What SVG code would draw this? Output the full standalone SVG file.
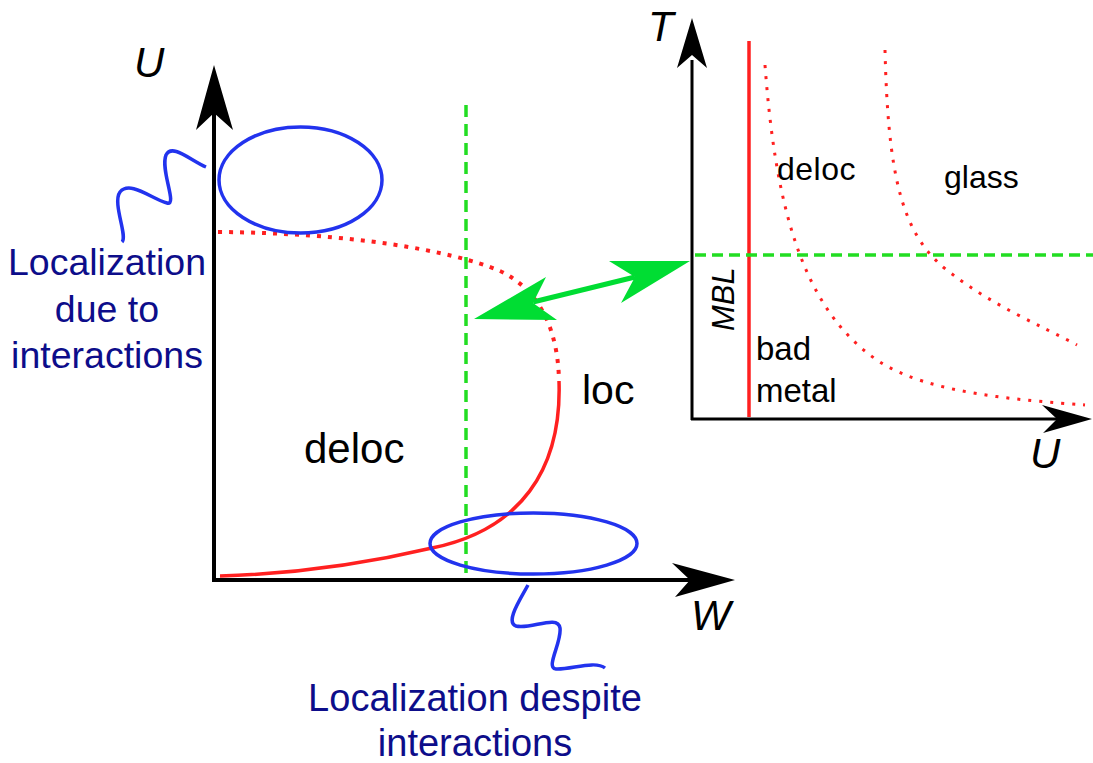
<svg xmlns="http://www.w3.org/2000/svg" width="1093" height="763" viewBox="0 0 1093 763">
<style>
text{font-family:"Liberation Sans",Arial,sans-serif;}
.ax{stroke:#000;fill:none;}
.ah{fill:#000;stroke:none;}
.lab{font-style:italic;font-size:42px;fill:#000;}
.reg{fill:#000;}
.note{fill:#0d0d8a;text-anchor:middle;}
.blue{stroke:#2233ee;stroke-width:3.5;fill:none;}
.dot{stroke:#ff2020;fill:none;}
.solid{stroke:#ff2020;fill:none;stroke-width:3.5;}
.gdash{stroke:#22dd22;fill:none;stroke-width:3.5;}
.garrow{fill:#00dd33;stroke:none;}
</style>
<rect width="1093" height="763" fill="#fff"/>

<g id="left-plot">
  <line class="ax" x1="214" y1="580" x2="214" y2="110" stroke-width="4"/>
  <polygon class="ah" points="214,65 233,130 214,113 196,130"/>
  <line class="ax" x1="212" y1="580" x2="692" y2="580" stroke-width="4"/>
  <polygon class="ah" points="735,580 672,563 690,580 675,597"/>
  <text class="lab" x="134" y="77">U</text>
  <text class="lab" x="691" y="630">W</text>
  <path class="dot" stroke-width="4" stroke-dasharray="4 7" d="M218,232 C350,233 450,250 500,271 C540,290 558,330 559,381"/>
  <path class="solid" d="M559,381 C562,470 520,530 432,548 C360,565 290,574 220,576"/>
  <line class="gdash" x1="466" y1="105" x2="466" y2="578" stroke-dasharray="12 7"/>
  <text class="reg" x="304" y="463" font-size="42">deloc</text>
  <text class="reg" x="582" y="404" font-size="41">loc</text>
</g>

<g id="region-top">
  <ellipse class="blue" cx="300.5" cy="180" rx="81.5" ry="53"/>
  <path class="blue" d="M206,167 C190,160 172,143 166,155 C160,170 178,206 167,203 C152,199 130,180 120,192 C112,203 128,236 122,242"/>
  <text class="note" x="107" y="275" font-size="37.5">Localization</text>
  <text class="note" x="107" y="322" font-size="37.5">due to</text>
  <text class="note" x="107" y="368" font-size="37.5">interactions</text>
</g>

<g id="region-bottom">
  <ellipse class="blue" cx="533.5" cy="543.5" rx="103.5" ry="30.5"/>
  <path class="blue" d="M528,585 C520,600 505,622 516,626 C530,630 558,614 560,628 C562,642 545,668 556,669 C570,670 595,660 605,668"/>
  <text class="note" x="475" y="711" font-size="38">Localization despite</text>
  <text class="note" x="475" y="756" font-size="38">interactions</text>
</g>

<g id="connectors">
  <line x1="533" y1="302" x2="635" y2="277" stroke="#00dd33" stroke-width="5"/>
  <polygon class="garrow" points="474,319 546,277 533,303 557,320"/>
  <polygon class="garrow" points="690,261 609,261 635,277 621,303"/>
</g>

<g id="right-plot">
  <line class="ax" x1="692" y1="420" x2="692" y2="60" stroke-width="3"/>
  <polygon class="ah" points="692,18 707,68 692,55 677,68"/>
  <line class="ax" x1="691" y1="419" x2="1060" y2="419" stroke-width="3"/>
  <polygon class="ah" points="1092,419 1042,405 1057,419 1043,433"/>
  <text class="lab" x="648" y="41">T</text>
  <text class="lab" x="1030" y="468">U</text>
  <line x1="749" y1="41" x2="749" y2="417" stroke="#ff2020" stroke-width="3.5"/>
  <path class="dot" stroke-width="3" stroke-dasharray="3 8" d="M765,65 C775,200 800,310 880,362 C930,394 1020,400 1085,405"/>
  <path class="dot" stroke-width="3" stroke-dasharray="3 8" d="M885,50 C888,170 900,230 943,267 C990,305 1040,325 1077,345"/>
  <line class="gdash" x1="695" y1="255" x2="1093" y2="255" stroke-dasharray="11 6"/>
  <text class="reg" x="777" y="180" font-size="32" letter-spacing="0.5">deloc</text>
  <text class="reg" x="944" y="188" font-size="32">glass</text>
  <text class="reg" x="756" y="360" font-size="33">bad</text>
  <text class="reg" x="756" y="402" font-size="33">metal</text>
  <text class="reg" font-size="31" font-style="italic" transform="translate(734,331) rotate(-90)">MBL</text>
</g>
</svg>
